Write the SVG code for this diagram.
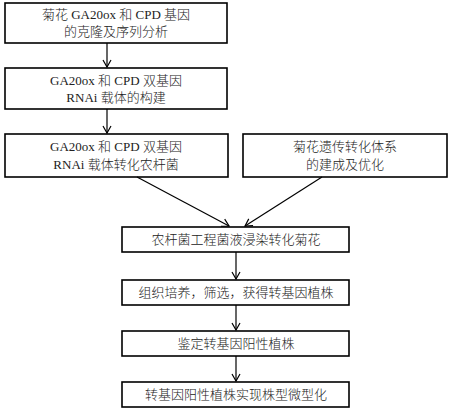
<svg xmlns="http://www.w3.org/2000/svg" width="450" height="409" viewBox="0 0 450 409">
<defs>
<marker id="ah" markerWidth="10" markerHeight="10" refX="8" refY="5" orient="auto" markerUnits="userSpaceOnUse">
<path d="M1,1 L8,5 L1,9" fill="none" stroke="#000" stroke-width="1.2"/>
</marker>
<style>
rect{fill:#fff;stroke:#000;stroke-width:1.6}
text{font-family:"Liberation Serif","Noto Sans CJK SC",serif;font-size:13px;font-weight:300;fill:#222;text-anchor:middle}
.c line{stroke:#000;stroke-width:1.2;marker-end:url(#ah)}
</style>
</defs>
<rect x="0" y="0" width="450" height="409" style="fill:#fff;stroke:none"/>
<g id="n1"><rect x="5" y="3" width="222" height="40"/><text x="116" y="19">菊花 GA20ox 和 CPD 基因</text><text x="116" y="36">的克隆及序列分析</text></g>
<g id="n2"><rect x="5" y="68" width="222" height="41"/><text x="116" y="85">GA20ox 和 CPD 双基因</text><text x="116" y="102">RNAi 载体的构建</text></g>
<g id="n3"><rect x="5" y="134" width="223" height="43"/><text x="116" y="151">GA20ox 和 CPD 双基因</text><text x="116" y="169">RNAi 载体转化农杆菌</text></g>
<g id="n4"><rect x="243" y="134" width="204" height="43"/><text x="345" y="151">菊花遗传转化体系</text><text x="345" y="169">的建成及优化</text></g>
<g id="n5"><rect x="122" y="227" width="227" height="25"/><text x="236" y="244">农杆菌工程菌液浸染转化菊花</text></g>
<g id="n6"><rect x="122" y="280" width="227" height="25"/><text x="236" y="297">组织培养，筛选，获得转基因植株</text></g>
<g id="n7"><rect x="122" y="331" width="227" height="25"/><text x="236" y="348">鉴定转基因阳性植株</text></g>
<g id="n8"><rect x="122" y="382" width="227" height="25"/><text x="236" y="399">转基因阳性植株实现株型微型化</text></g>
<g class="c" id="connectors">
<line x1="107" y1="43" x2="107" y2="67"/>
<line x1="107" y1="109" x2="107" y2="133"/>
<line x1="137" y1="177" x2="229" y2="226"/>
<line x1="322" y1="177" x2="245" y2="226"/>
<line x1="236" y1="252" x2="236" y2="279"/>
<line x1="236" y1="305" x2="236" y2="330"/>
<line x1="236" y1="356" x2="236" y2="381"/>
</g>
</svg>
